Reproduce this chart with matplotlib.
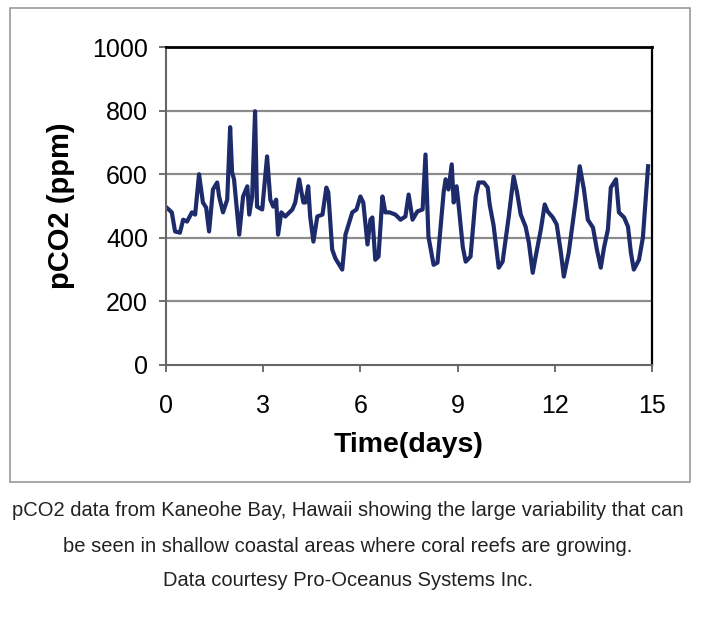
import numpy as np
import matplotlib.pyplot as plt
from matplotlib.patches import Rectangle

plt.rcParams['font.family'] = ['Liberation Sans', 'DejaVu Sans']

# pCO2 record
days = [0.02, 0.18, 0.28, 0.43, 0.53, 0.65, 0.80, 0.90, 1.02, 1.14, 1.24, 1.33,
        1.45, 1.58, 1.64, 1.76, 1.89, 1.98, 2.04, 2.10, 2.26, 2.38, 2.51, 2.57,
        2.66, 2.75, 2.81, 2.97, 3.12, 3.22, 3.31, 3.40, 3.46, 3.56, 3.68, 3.90,
        3.99, 4.11, 4.24, 4.30, 4.39, 4.45, 4.55, 4.67, 4.83, 4.95, 5.01, 5.13,
        5.23, 5.29, 5.44, 5.54, 5.75, 5.88, 6.00, 6.09, 6.22, 6.31, 6.37, 6.46,
        6.56, 6.68, 6.77, 6.90, 7.08, 7.24, 7.39, 7.49, 7.61, 7.76, 7.92, 8.01,
        8.10, 8.26, 8.38, 8.57, 8.63, 8.72, 8.82, 8.88, 8.97, 9.03, 9.16, 9.25,
        9.40, 9.56, 9.65, 9.81, 9.93, 9.99, 10.11, 10.27, 10.39, 10.58, 10.73,
        10.83, 10.95, 11.10, 11.20, 11.32, 11.41, 11.57, 11.69, 11.78, 11.94,
        12.06, 12.19, 12.28, 12.43, 12.65, 12.77, 12.90, 13.02, 13.18, 13.30,
        13.42, 13.52, 13.64, 13.73, 13.89, 13.98, 14.14, 14.26, 14.35, 14.44,
        14.60, 14.72, 14.88]
pco2 = [495, 480, 420, 416, 457, 451, 480, 473, 600, 511, 495, 420,
        552, 574, 530, 480, 520, 748, 606, 584, 410, 530, 562, 473,
        530, 798, 498, 489, 656, 520, 498, 520, 410, 480, 467, 489,
        511, 584, 511, 511, 562, 467, 388, 467, 473, 558, 543, 363,
        335, 325, 300, 410, 480, 489, 530, 511, 379, 457, 464, 331,
        341, 530, 480, 480, 473, 457, 467, 536, 457, 483, 489, 662,
        404, 315, 322, 543, 584, 552, 631, 511, 562, 505, 372, 325,
        341, 530, 574, 574, 558, 505, 440, 306, 325, 467, 593,
        546, 473, 435, 385, 290, 341, 426, 505, 483, 464,
        442, 353, 278, 353, 520, 625, 552, 457, 432, 363,
        306, 369, 426, 558, 584, 480, 464, 435, 353, 300,
        331, 401, 625]

xticks = [0, 3, 6, 9, 12, 15]
yticks = [0, 200, 400, 600, 800, 1000]

caption = ["pCO2 data from Kaneohe Bay, Hawaii showing the large variability that can",
           "be seen in shallow coastal areas where coral reefs are growing.",
           "Data courtesy Pro-Oceanus Systems Inc."]

fig = plt.figure(figsize=(7.13, 6.22), dpi=100)
ax = fig.add_axes([0.2328, 0.4132, 0.6816, 0.5112])

ax.plot(days, pco2, color='#1d2b6b', lw=3, solid_joinstyle='round')

ax.set_xlim(0, 15)
ax.set_ylim(0, 1000)
ax.set_xticks(xticks)
ax.set_yticks(yticks)
ax.tick_params(labelsize=18, direction='out', length=5, width=1.2, color='#555555')
ax.tick_params(axis='x', pad=16)
ax.tick_params(axis='y', pad=8)
for y in yticks[1:-1]:
    ax.axhline(y, color='#8c8c8c', lw=1.6, zorder=0)

ax.spines['top'].set_color('black')
ax.spines['right'].set_color('black')
ax.spines['top'].set_linewidth(2)
ax.spines['right'].set_linewidth(1.6)
ax.spines['left'].set_color('#666666')
ax.spines['bottom'].set_color('#666666')
ax.spines['left'].set_linewidth(1.5)
ax.spines['bottom'].set_linewidth(1.5)

ax.set_xlabel('Time(days)', fontsize=20.5, fontweight='bold', labelpad=10)
ax.set_ylabel('pCO2 (ppm)', fontsize=21, fontweight='bold', labelpad=12)

# outer chart border
fig.patches.append(Rectangle((10 / 713, 1 - 482 / 622), 680 / 713, 474 / 622,
                             transform=fig.transFigure, fill=False,
                             edgecolor='#9a9a9a', lw=1.2))

for i, line in enumerate(caption):
    fig.text(0.488, 1 - (511 + 35 * i) / 622, line, ha='center', va='center',
             fontsize=14.5, color='#222222')

fig.savefig('out.png', dpi=100)
